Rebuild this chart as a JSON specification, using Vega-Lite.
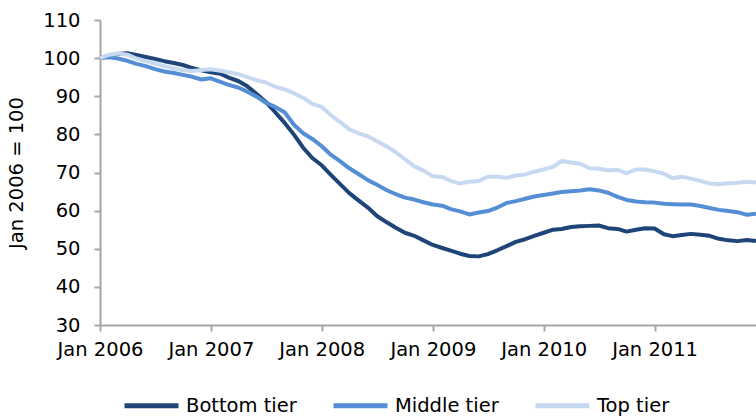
{
  "$schema": "https://vega.github.io/schema/vega-lite/v6.json",
  "width": 656,
  "height": 305,
  "autosize": {"type": "none"},
  "padding": {"left": 100, "top": 20, "right": 0, "bottom": 93},
  "background": "white",
  "config": {
    "view": {"stroke": null},
    "font": "DejaVu Sans"
  },
  "data": {
    "values": [
      {"date":"2006-01-01","Bottom tier":100,"Middle tier":100,"Top tier":100},
      {"date":"2006-02-01","Bottom tier":100.7,"Middle tier":100.2,"Top tier":100.9},
      {"date":"2006-03-01","Bottom tier":101.1,"Middle tier":99.9,"Top tier":101.2},
      {"date":"2006-04-01","Bottom tier":101.3,"Middle tier":99.3,"Top tier":100.9},
      {"date":"2006-05-01","Bottom tier":100.8,"Middle tier":98.5,"Top tier":99.9},
      {"date":"2006-06-01","Bottom tier":100.3,"Middle tier":97.9,"Top tier":99.2},
      {"date":"2006-07-01","Bottom tier":99.8,"Middle tier":97.1,"Top tier":98.6},
      {"date":"2006-08-01","Bottom tier":99.2,"Middle tier":96.5,"Top tier":97.9},
      {"date":"2006-09-01","Bottom tier":98.7,"Middle tier":96.1,"Top tier":97.3},
      {"date":"2006-10-01","Bottom tier":98.2,"Middle tier":95.6,"Top tier":96.8},
      {"date":"2006-11-01","Bottom tier":97.4,"Middle tier":95.1,"Top tier":96.6},
      {"date":"2006-12-01","Bottom tier":96.8,"Middle tier":94.4,"Top tier":96.9},
      {"date":"2007-01-01","Bottom tier":96.3,"Middle tier":94.7,"Top tier":97.1},
      {"date":"2007-02-01","Bottom tier":95.9,"Middle tier":93.8,"Top tier":96.7},
      {"date":"2007-03-01","Bottom tier":94.9,"Middle tier":93.0,"Top tier":96.3},
      {"date":"2007-04-01","Bottom tier":94.0,"Middle tier":92.3,"Top tier":95.8},
      {"date":"2007-05-01","Bottom tier":92.6,"Middle tier":91.2,"Top tier":95.0},
      {"date":"2007-06-01","Bottom tier":90.6,"Middle tier":89.9,"Top tier":94.2},
      {"date":"2007-07-01","Bottom tier":88.5,"Middle tier":88.3,"Top tier":93.6},
      {"date":"2007-08-01","Bottom tier":85.8,"Middle tier":87.2,"Top tier":92.5},
      {"date":"2007-09-01","Bottom tier":83.0,"Middle tier":85.8,"Top tier":91.8},
      {"date":"2007-10-01","Bottom tier":80.0,"Middle tier":82.6,"Top tier":90.8},
      {"date":"2007-11-01","Bottom tier":76.5,"Middle tier":80.3,"Top tier":89.6},
      {"date":"2007-12-01","Bottom tier":73.8,"Middle tier":78.8,"Top tier":88.0},
      {"date":"2008-01-01","Bottom tier":71.9,"Middle tier":76.9,"Top tier":87.2},
      {"date":"2008-02-01","Bottom tier":69.3,"Middle tier":74.6,"Top tier":85.0},
      {"date":"2008-03-01","Bottom tier":67.0,"Middle tier":73.0,"Top tier":83.3},
      {"date":"2008-04-01","Bottom tier":64.6,"Middle tier":71.1,"Top tier":81.3},
      {"date":"2008-05-01","Bottom tier":62.7,"Middle tier":69.6,"Top tier":80.3},
      {"date":"2008-06-01","Bottom tier":60.8,"Middle tier":68.0,"Top tier":79.5},
      {"date":"2008-07-01","Bottom tier":58.6,"Middle tier":66.8,"Top tier":78.2},
      {"date":"2008-08-01","Bottom tier":57.0,"Middle tier":65.4,"Top tier":76.9},
      {"date":"2008-09-01","Bottom tier":55.5,"Middle tier":64.3,"Top tier":75.3},
      {"date":"2008-10-01","Bottom tier":54.2,"Middle tier":63.4,"Top tier":73.5},
      {"date":"2008-11-01","Bottom tier":53.4,"Middle tier":62.9,"Top tier":71.6},
      {"date":"2008-12-01","Bottom tier":52.2,"Middle tier":62.2,"Top tier":70.5},
      {"date":"2009-01-01","Bottom tier":51.0,"Middle tier":61.6,"Top tier":69.0},
      {"date":"2009-02-01","Bottom tier":50.2,"Middle tier":61.3,"Top tier":68.8},
      {"date":"2009-03-01","Bottom tier":49.5,"Middle tier":60.4,"Top tier":67.8},
      {"date":"2009-04-01","Bottom tier":48.7,"Middle tier":59.8,"Top tier":67.1},
      {"date":"2009-05-01","Bottom tier":48.1,"Middle tier":59.0,"Top tier":67.6},
      {"date":"2009-06-01","Bottom tier":48.0,"Middle tier":59.5,"Top tier":67.8},
      {"date":"2009-07-01","Bottom tier":48.6,"Middle tier":59.9,"Top tier":68.9},
      {"date":"2009-08-01","Bottom tier":49.6,"Middle tier":60.8,"Top tier":68.9},
      {"date":"2009-09-01","Bottom tier":50.7,"Middle tier":62.0,"Top tier":68.6},
      {"date":"2009-10-01","Bottom tier":51.8,"Middle tier":62.5,"Top tier":69.2},
      {"date":"2009-11-01","Bottom tier":52.5,"Middle tier":63.1,"Top tier":69.5},
      {"date":"2009-12-01","Bottom tier":53.4,"Middle tier":63.7,"Top tier":70.2},
      {"date":"2010-01-01","Bottom tier":54.2,"Middle tier":64.1,"Top tier":70.8},
      {"date":"2010-02-01","Bottom tier":55.0,"Middle tier":64.5,"Top tier":71.5},
      {"date":"2010-03-01","Bottom tier":55.2,"Middle tier":64.9,"Top tier":73.0},
      {"date":"2010-04-01","Bottom tier":55.7,"Middle tier":65.1,"Top tier":72.6},
      {"date":"2010-05-01","Bottom tier":55.9,"Middle tier":65.3,"Top tier":72.3},
      {"date":"2010-06-01","Bottom tier":56.0,"Middle tier":65.6,"Top tier":71.1},
      {"date":"2010-07-01","Bottom tier":56.1,"Middle tier":65.3,"Top tier":71.0},
      {"date":"2010-08-01","Bottom tier":55.4,"Middle tier":64.7,"Top tier":70.6},
      {"date":"2010-09-01","Bottom tier":55.2,"Middle tier":63.6,"Top tier":70.7},
      {"date":"2010-10-01","Bottom tier":54.5,"Middle tier":62.8,"Top tier":69.8},
      {"date":"2010-11-01","Bottom tier":55.0,"Middle tier":62.4,"Top tier":70.8},
      {"date":"2010-12-01","Bottom tier":55.4,"Middle tier":62.2,"Top tier":70.8},
      {"date":"2011-01-01","Bottom tier":55.3,"Middle tier":62.1,"Top tier":70.3},
      {"date":"2011-02-01","Bottom tier":53.8,"Middle tier":61.8,"Top tier":69.7},
      {"date":"2011-03-01","Bottom tier":53.3,"Middle tier":61.7,"Top tier":68.5},
      {"date":"2011-04-01","Bottom tier":53.6,"Middle tier":61.6,"Top tier":68.9},
      {"date":"2011-05-01","Bottom tier":53.9,"Middle tier":61.6,"Top tier":68.4},
      {"date":"2011-06-01","Bottom tier":53.7,"Middle tier":61.2,"Top tier":67.8},
      {"date":"2011-07-01","Bottom tier":53.4,"Middle tier":60.7,"Top tier":67.1},
      {"date":"2011-08-01","Bottom tier":52.6,"Middle tier":60.2,"Top tier":66.9},
      {"date":"2011-09-01","Bottom tier":52.2,"Middle tier":59.9,"Top tier":67.2},
      {"date":"2011-10-01","Bottom tier":52.0,"Middle tier":59.6,"Top tier":67.3},
      {"date":"2011-11-01","Bottom tier":52.3,"Middle tier":58.9,"Top tier":67.6},
      {"date":"2011-12-01","Bottom tier":52.0,"Middle tier":59.2,"Top tier":67.4}
    ]
  },
  "transform": [
    {"fold": ["Bottom tier", "Middle tier", "Top tier"], "as": ["tier", "value"]}
  ],
  "mark": {"type": "line", "strokeWidth": 4, "strokeJoin": "round", "strokeCap": "butt", "clip": true},
  "encoding": {
    "x": {
      "field": "date",
      "type": "temporal",
      "scale": {"type": "utc", "domain": [{"year": 2006, "month": 1, "date": 1, "utc": true}, {"year": 2011, "month": 12, "date": 1, "utc": true}]},
      "axis": {
        "title": null,
        "grid": false,
        "values": [
          {"year": 2006, "month": 1, "date": 1, "utc": true},
          {"year": 2007, "month": 1, "date": 1, "utc": true},
          {"year": 2008, "month": 1, "date": 1, "utc": true},
          {"year": 2009, "month": 1, "date": 1, "utc": true},
          {"year": 2010, "month": 1, "date": 1, "utc": true},
          {"year": 2011, "month": 1, "date": 1, "utc": true}
        ],
        "labelExpr": "'Jan ' + utcFormat(datum.value, '%Y')",
        "labelFontSize": 19.5,
        "labelColor": "#000000",
        "labelPadding": 9,
        "labelFlush": false,
        "labelOverlap": false,
        "domainColor": "#a6a6a6",
        "domainWidth": 2,
        "tickColor": "#a6a6a6",
        "tickWidth": 2,
        "tickSize": 6
      }
    },
    "y": {
      "field": "value",
      "type": "quantitative",
      "scale": {"domain": [30, 110], "nice": false, "zero": false},
      "axis": {
        "title": "Jan 2006 = 100",
        "titleFontSize": 19.5,
        "titleFontWeight": "normal",
        "titleColor": "#000000",
        "titlePadding": 16,
        "grid": false,
        "values": [30, 40, 50, 60, 70, 80, 90, 100, 110],
        "labelFontSize": 19.5,
        "labelColor": "#000000",
        "labelPadding": 14,
        "domainColor": "#a6a6a6",
        "domainWidth": 2,
        "tickColor": "#a6a6a6",
        "tickWidth": 2,
        "tickSize": 6
      }
    },
    "color": {
      "field": "tier",
      "type": "nominal",
      "scale": {"domain": ["Bottom tier", "Middle tier", "Top tier"], "range": ["#1f4478", "#558ed5", "#c6d9f1"]},
      "legend": {
        "title": null,
        "orient": "none",
        "direction": "horizontal",
        "legendX": 22,
        "legendY": 356,
        "symbolType": "stroke",
        "symbolSize": 2916,
        "symbolStrokeWidth": 5,
        "labelFontSize": 19.5,
        "labelColor": "#000000",
        "labelOffset": 5,
        "columnPadding": 26,
        "labelLimit": 300
      }
    }
  }
}
